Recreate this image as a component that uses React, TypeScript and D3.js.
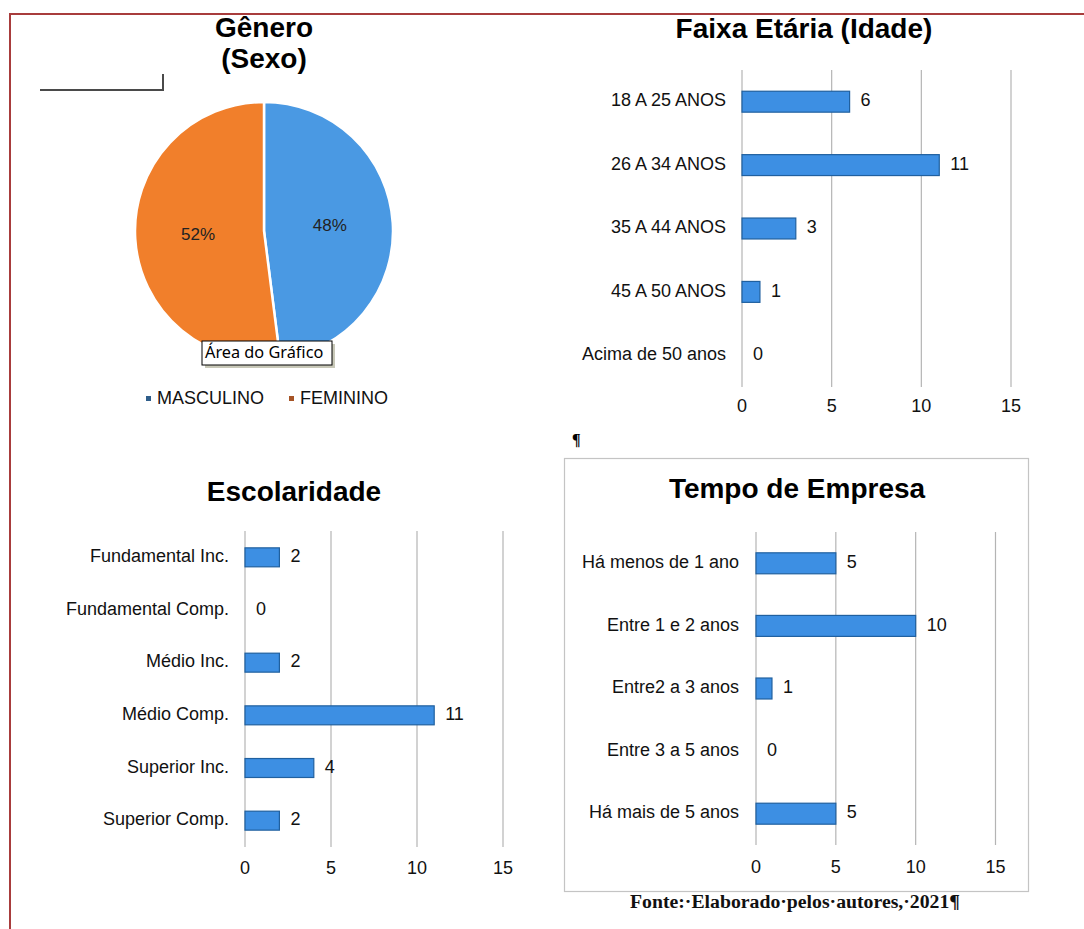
import * as d3 from "d3";

// ---- data ----
const generoLabels = ["MASCULINO", "FEMININO"];
const generoValues = [48, 52];

const faixaCategories = ["18 A 25 ANOS", "26 A 34 ANOS", "35 A 44 ANOS", "45 A 50 ANOS", "Acima de 50 anos"];
const faixaValues = [6, 11, 3, 1, 0];

const escolaridadeCategories = [
  "Fundamental Inc.",
  "Fundamental Comp.",
  "Médio Inc.",
  "Médio Comp.",
  "Superior Inc.",
  "Superior Comp.",
];
const escolaridadeValues = [2, 0, 2, 11, 4, 2];

const tempoCategories = ["Há menos de 1 ano", "Entre 1 e 2 anos", "Entre2 a 3 anos", "Entre 3 a 5 anos", "Há mais de 5 anos"];
const tempoValues = [5, 10, 1, 0, 5];

const xTicks = [0, 5, 10, 15];

const FONT = "'Liberation Sans', Arial, sans-serif";
const BAR_FILL = "#3d8fe3";
const BAR_STROKE = "#20609f";
const GRID = "#b4b4b4";
const PIE_COLORS = ["#4a99e3", "#f17f2b"];
const LEGEND_COLORS = ["#2f5d8a", "#a65426"];
const LABEL_SIZE = 18;
const TITLE_SIZE = 28;

interface BarPanelProps {
  title: string;
  titleX: number;
  titleY: number;
  categories: string[];
  values: number[];
  xRange: [number, number];
  yRange: [number, number];
  padding: number;
  labelRight: number;
  tickY: number;
}

const BarPanel = ({ title, titleX, titleY, categories, values, xRange, yRange, padding, labelRight, tickY }: BarPanelProps) => {
  const x = d3.scaleLinear().domain([0, 15]).range(xRange);
  const y = d3
    .scaleBand<string>()
    .domain(categories)
    .range(yRange)
    .paddingInner(padding)
    .paddingOuter(padding / 2);

  return (
    <g>
      <text x={titleX} y={titleY} textAnchor="middle" fontFamily={FONT} fontWeight="bold" fontSize={TITLE_SIZE} fill="#000">
        {title}
      </text>
      {xTicks.map((t) => (
        <g key={t}>
          <line x1={x(t)} x2={x(t)} y1={yRange[0]} y2={yRange[1]} stroke={GRID} strokeWidth={1.2} />
          <text x={x(t)} y={tickY} textAnchor="middle" dominantBaseline="middle" fontFamily={FONT} fontSize={LABEL_SIZE} fill="#111">
            {t}
          </text>
        </g>
      ))}
      {categories.map((c, i) => {
        const yc = (y(c) ?? 0) + y.bandwidth() / 2;
        return (
          <g key={c}>
            {values[i] > 0 && (
              <rect
                x={x(0)}
                y={y(c)}
                width={x(values[i]) - x(0)}
                height={y.bandwidth()}
                fill={BAR_FILL}
                stroke={BAR_STROKE}
                strokeWidth={1.2}
              />
            )}
            <text x={labelRight} y={yc} textAnchor="end" dominantBaseline="middle" fontFamily={FONT} fontSize={LABEL_SIZE} fill="#111">
              {c}
            </text>
            <text x={x(values[i]) + 11} y={yc} dominantBaseline="middle" fontFamily={FONT} fontSize={LABEL_SIZE} fill="#111">
              {values[i]}
            </text>
          </g>
        );
      })}
    </g>
  );
};

const PiePanel = () => {
  const cx = 264;
  const cy = 231;
  const r = 129;
  const pie = d3.pie<number>().sort(null).value((d) => d);
  const arcs = pie(generoValues);
  const arc = d3.arc<d3.PieArcDatum<number>>().innerRadius(0).outerRadius(r);
  const labelArc = d3.arc<d3.PieArcDatum<number>>().innerRadius(66).outerRadius(66);
  const legendX = [146, 289];

  return (
    <g>
      <text x={264} y={37} textAnchor="middle" fontFamily={FONT} fontWeight="bold" fontSize={TITLE_SIZE}>
        Gênero
      </text>
      <text x={264} y={68} textAnchor="middle" fontFamily={FONT} fontWeight="bold" fontSize={TITLE_SIZE}>
        (Sexo)
      </text>
      <path d="M40,90 H163 V74" fill="none" stroke="#4a4a4a" strokeWidth={2} />
      <g transform={`translate(${cx},${cy})`}>
        {arcs.map((a, i) => (
          <path key={i} d={arc(a) ?? ""} fill={PIE_COLORS[i]} stroke="#fff" strokeWidth={2.5} />
        ))}
        {arcs.map((a, i) => {
          const [lx, ly] = labelArc.centroid(a);
          return (
            <text key={i} x={lx} y={ly} textAnchor="middle" dominantBaseline="middle" fontFamily={FONT} fontSize={17} fill="#222">
              {generoValues[i]}%
            </text>
          );
        })}
      </g>
      {/* "Área do Gráfico" tooltip */}
      <rect x={205} y={344} width={130} height={24} fill="#c8c8b8" />
      <rect x={202} y={341} width={130} height={24} fill="#fff" stroke="#000" strokeWidth={1} />
      <text x={205} y={353.5} dominantBaseline="middle" fontFamily="'Noto Sans', sans-serif" fontSize={16.3} fill="#000">
        Área do Gráfico
      </text>
      {generoLabels.map((l, i) => (
        <g key={l}>
          <rect x={legendX[i]} y={396} width={5} height={5} fill={LEGEND_COLORS[i]} />
          <text x={legendX[i] + 11} y={399} dominantBaseline="middle" fontFamily={FONT} fontSize={LABEL_SIZE} fill="#111">
            {l}
          </text>
        </g>
      ))}
    </g>
  );
};

export default function App() {
  return (
    <svg width={1084} height={929} style={{ position: "absolute", left: 0, top: 0, background: "#fff" }}>
      <rect x={0} y={0} width={1084} height={929} fill="#fff" />
      {/* page border */}
      <line x1={10} x2={1084} y1={14} y2={14} stroke="#a83c3c" strokeWidth={2} />
      <line x1={10} x2={10} y1={13} y2={929} stroke="#a83c3c" strokeWidth={2} />

      <PiePanel />

      <BarPanel
        title="Faixa Etária (Idade)"
        titleX={804}
        titleY={38}
        categories={faixaCategories}
        values={faixaValues}
        xRange={[742, 1011]}
        yRange={[70, 387]}
        padding={0.67}
        labelRight={726}
        tickY={407}
      />

      <text x={572} y={445} fontFamily="'Liberation Serif', serif" fontSize={16} fontWeight="bold">
        ¶
      </text>

      <BarPanel
        title="Escolaridade"
        titleX={294}
        titleY={501}
        categories={escolaridadeCategories}
        values={escolaridadeValues}
        xRange={[245, 503]}
        yRange={[531, 847]}
        padding={0.64}
        labelRight={229}
        tickY={869}
      />

      <rect x={564.5} y={458.5} width={464} height={433} fill="none" stroke="#c4c4c4" strokeWidth={1.2} />
      <BarPanel
        title="Tempo de Empresa"
        titleX={797}
        titleY={498}
        categories={tempoCategories}
        values={tempoValues}
        xRange={[756, 995.5]}
        yRange={[532, 845]}
        padding={0.665}
        labelRight={739}
        tickY={868}
      />

      <text
        x={630}
        y={908}
        fontFamily="'Liberation Serif', 'Times New Roman', serif"
        fontSize={18}
        fontWeight="bold"
        fill="#111"
        textLength={330}
        lengthAdjust="spacingAndGlyphs"
      >
        Fonte:·Elaborado·pelos·autores,·2021¶
      </text>
    </svg>
  );
}
